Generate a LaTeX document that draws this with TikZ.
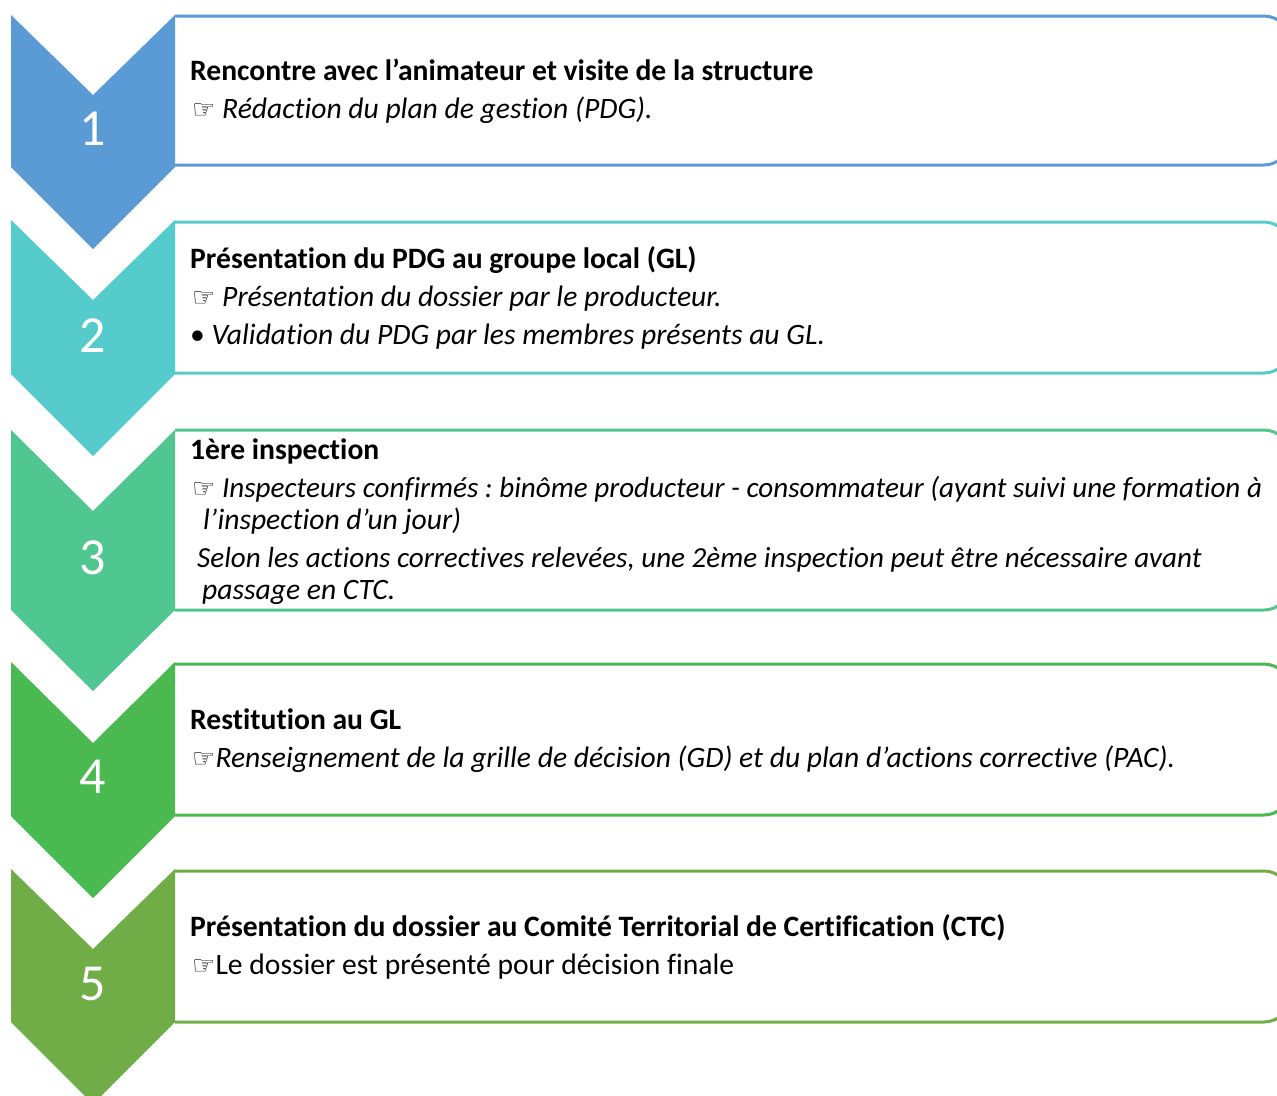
\documentclass[tikz,border=0pt]{standalone}
\usepackage{fontspec}
\setmainfont{Carlito}[Ligatures=NoCommon]
\newfontfamily\handfont{DejaVu Sans}
\definecolor{cA}{HTML}{5B9BD5}
\definecolor{cB}{HTML}{55CBCB}
\definecolor{cC}{HTML}{50C690}
\definecolor{cD}{HTML}{4ABA50}
\definecolor{cE}{HTML}{71AD47}
\newcommand{\hand}{{\handfont\fontsize{26}{30}\selectfont ☞}}
\frenchspacing
\begin{document}
\begin{tikzpicture}[x=1pt,y=-1pt,
  boxframe/.style={line width=3pt, rounded corners=26pt},
  numtxt/.style={text=white, font=\fontsize{52}{56}\selectfont},
  txt/.style={anchor=base west, inner sep=0pt, font=\fontsize{29.6}{34}\selectfont},
  txtnarrow/.style={txt, font=\fontsize{29.1}{34}\selectfont}]
\useasboundingbox (0,0) rectangle (1277,1095);
\clip (0,0) rectangle (1277,1095);
% boxes
\draw[boxframe, draw=cA] (175,16) -- (1290,16) -- (1290,165) -- (175,165);
\draw[boxframe, draw=cB] (175,222) -- (1290,222) -- (1290,373) -- (175,373);
\draw[boxframe, draw=cC] (175,430) -- (1290,430) -- (1290,610) -- (175,610);
\draw[boxframe, draw=cD] (175,664) -- (1290,664) -- (1290,815) -- (175,815);
\draw[boxframe, draw=cE] (175,871) -- (1290,871) -- (1290,1022) -- (175,1022);
% chevrons
\fill[cA] (11,15) -- (93,95) -- (175,15) -- (175,167) -- (93,249) -- (11,167) -- cycle;
\fill[cB] (11,220) -- (93,300) -- (175,220) -- (175,374) -- (93,456) -- (11,374) -- cycle;
\fill[cC] (11,430) -- (93,511) -- (175,430) -- (175,610) -- (93,691) -- (11,610) -- cycle;
\fill[cD] (11,662) -- (93,743) -- (175,662) -- (175,816) -- (93,898) -- (11,816) -- cycle;
\fill[cE] (11,869) -- (93,949) -- (175,869) -- (175,1022) -- (93,1104) -- (11,1022) -- cycle;
\node[numtxt] (n1) at (93,129) {1};
\node[numtxt] (n2) at (93,336) {2};
\node[numtxt] (n3) at (93,558) {3};
\node[numtxt] (n4) at (93,777) {4};
\node[numtxt] (n5) at (93,984) {5};
% texts
\node[txt] (t1a) at (190,80) {\bfseries Rencontre avec l’animateur et visite de la structure};
\node[txt] (t1b) at (192,118) {\hand\ \itshape Rédaction du plan de gestion (PDG).};
\node[txt] (t2a) at (190,268) {\bfseries Présentation du PDG au groupe local (GL)};
\node[txt] (t2b) at (192,306) {\hand\ \itshape Présentation du dossier par le producteur.};
\node[txt] (t2c) at (190,344) {• \itshape Validation du PDG par les membres présents au GL.};
\node[txt] (t3a) at (190,459) {\bfseries 1ère inspection};
\node[txtnarrow] (t3b) at (192,497) {\hand\ \itshape Inspecteurs confirmés : binôme producteur - consommateur (ayant suivi une formation à};
\node[txt] (t3c) at (203,529) {\itshape l’inspection d’un jour)};
\node[txtnarrow] (t3d) at (197,567) {\itshape Selon les actions correctives relevées, une 2ème inspection peut être nécessaire avant};
\node[txt] (t3e) at (202,599) {\itshape passage en CTC.};
\node[txt] (t4a) at (190,729) {\bfseries Restitution au GL};
\node[txt] (t4b) at (192,767) {\hand\itshape Renseignement de la grille de décision (GD) et du plan d’actions corrective (PAC).};
\node[txt] (t5a) at (190,936) {\bfseries Présentation du dossier au Comité Territorial de Certification (CTC)};
\node[txt] (t5b) at (192,974) {\hand Le dossier est présenté pour décision finale};
\end{tikzpicture}
\end{document}
